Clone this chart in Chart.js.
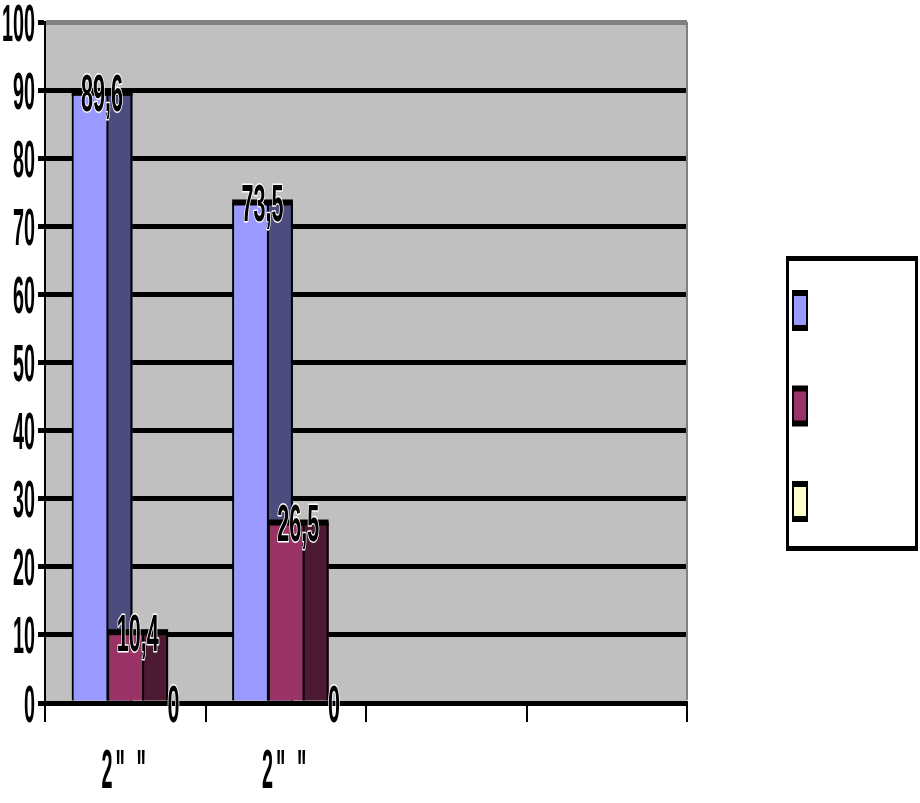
<!DOCTYPE html>
<html>
<head>
<meta charset="utf-8">
<script src="https://cdn.jsdelivr.net/npm/chart.js@4.4.1/dist/chart.umd.min.js"></script>
<style>
    body { margin: 0; background: #ffffff; }
    canvas { display: block; }
</style>
</head>
<body>
<canvas id="chart" width="920" height="803"></canvas>
<script>
var categories = ['2" "', '2" "', '', ''];
var series1 = [89.6, 73.5, null, null];
var series2 = [10.4, 26.5, null, null];
var series3 = [0, 0, null, null];
var seriesNames = ['', '', ''];

var frontColors = ['#9999FF', '#993366', '#FFFFCC'];
var sideColors = ['#4C4C7F', '#4D1A33', '#808066'];

var DEPTH = 25;
var FONT = '"Liberation Sans Narrow", "Liberation Sans", Arial, sans-serif';

// tall, squeezed bold text like the old excel picture
function stretchText(ctx, text, x, cy, align, digitW, size, outline, spacing) {
    ctx.save();
    ctx.font = 'bold ' + size + 'px ' + FONT;
    var m = ctx.measureText('0');
    var sx = digitW / m.width;
    var asc = m.actualBoundingBoxAscent || size * 0.716;
    ctx.translate(x, cy + asc / 2);
    ctx.scale(sx, 1);
    if (spacing) ctx.letterSpacing = (spacing / sx) + 'px';
    ctx.textAlign = align;
    ctx.textBaseline = 'alphabetic';
    if (outline) {
        ctx.lineWidth = 3;
        ctx.strokeStyle = '#ffffff';
        ctx.lineJoin = 'round';
        ctx.strokeText(text, 0, 0);
    }
    ctx.fillStyle = '#000000';
    ctx.fillText(text, 0, 0);
    ctx.restore();
}

function fmt(v) {
    return String(v).replace('.', ',');
}

var barsPlugin = {
    id: 'bars3d',
    beforeDraw: function (chart) {
        var a = chart.chartArea, ctx = chart.ctx;
        ctx.save();
        ctx.fillStyle = '#C0C0C0';
        ctx.fillRect(a.left, a.top, a.right - a.left, a.bottom - a.top);
        ctx.restore();
    },
    beforeDatasetsDraw: function (chart) {
        var a = chart.chartArea, ctx = chart.ctx;
        ctx.save();
        ctx.fillStyle = '#808080';
        ctx.fillRect(a.right - 1, a.top, 2, a.bottom - a.top - 3);
        ctx.restore();
    },
    afterDatasetsDraw: function (chart) {
        var ctx = chart.ctx;
        var n = chart.data.datasets.length;

        // redraw series first to last so each box covers the side of the one before
        ctx.save();
        for (var i = 0; i < n; i++) {
            chart.getDatasetMeta(i).data.forEach(function (bar) {
                var p = bar.getProps(['x', 'y', 'base', 'width'], true);
                if (p.y == null || isNaN(p.y) || p.base - p.y < 1) return;
                bar.draw(ctx);
                var left = p.x - p.width / 2, right = p.x + p.width / 2;
                ctx.fillStyle = sideColors[i];
                ctx.fillRect(right, p.y, DEPTH, p.base - p.y);
                ctx.fillStyle = '#000000';
                ctx.fillRect(right - 1, p.y, 2, p.base - p.y);
                ctx.fillRect(right + DEPTH - 2, p.y, 2, p.base - p.y);
                ctx.fillRect(left, p.y - 3, right + DEPTH - left, 6);
            });
        }
        ctx.restore();

        // value labels
        chart.data.datasets.forEach(function (ds, i) {
            var meta = chart.getDatasetMeta(i);
            meta.data.forEach(function (bar, j) {
                var v = ds.data[j];
                if (v == null) return;
                var p = bar.getProps(['x', 'y', 'width'], true);
                var cx = p.x - p.width / 2 + (p.width + DEPTH) / 2;
                stretchText(ctx, fmt(v), cx, p.y, 'center', 12, 52, true);
            });
        });
    },
    afterDraw: function (chart) {
        var ctx = chart.ctx;
        var ys = chart.scales.y, xs = chart.scales.x;

        // y tick labels
        ys.ticks.forEach(function (t) {
            stretchText(ctx, String(t.value), 35, ys.getPixelForValue(t.value), 'right', 11, 52, false);
        });
        // category labels
        chart.data.labels.forEach(function (lab, i) {
            if (!lab) return;
            stretchText(ctx, lab, xs.getPixelForValue(i), 768, 'center', 11, 56, false, 3);
        });

        // legend box
        var bx = 786, by = 256, bw = 132, bh = 295;
        ctx.save();
        ctx.fillStyle = '#ffffff';
        ctx.fillRect(bx, by, bw, bh);
        ctx.fillStyle = '#000000';
        ctx.fillRect(bx, by, bw, 5);
        ctx.fillRect(bx, by + bh - 5, bw, 5);
        ctx.fillRect(bx, by, 3, bh);
        ctx.fillRect(bx + bw - 3, by, 3, bh);
        chart.data.datasets.forEach(function (ds, i) {
            var cy = 310 + i * 95.5;
            ctx.fillStyle = '#000000';
            ctx.fillRect(792, cy - 20, 16, 41);
            ctx.fillStyle = ds.backgroundColor;
            ctx.fillRect(794, cy - 14, 12, 29);
        });
        ctx.restore();
    }
};

var ctx = document.getElementById('chart').getContext('2d');
new Chart(ctx, {
    type: 'bar',
    data: {
        labels: categories,
        datasets: [
            { label: seriesNames[0], data: series1, backgroundColor: frontColors[0] },
            { label: seriesNames[1], data: series2, backgroundColor: frontColors[1] },
            { label: seriesNames[2], data: series3, backgroundColor: frontColors[2] }
        ]
    },
    options: {
        responsive: false,
        devicePixelRatio: 1,
        animation: false,
        layout: { padding: { top: 22, right: 233, left: 0, bottom: 0 } },
        datasets: {
            bar: {
                categoryPercentage: 0.667,
                barPercentage: 1,
                borderColor: '#000000',
                borderWidth: { left: 2, right: 0, top: 0, bottom: 0 },
                borderSkipped: false
            }
        },
        plugins: {
            legend: { display: false },
            tooltip: { enabled: false }
        },
        scales: {
            x: {
                grid: {
                    offset: true,
                    drawOnChartArea: false,
                    drawTicks: true,
                    tickLength: 19,
                    lineWidth: 2,
                    tickColor: '#000000'
                },
                border: { display: true, color: '#000000', width: 5 },
                ticks: { color: 'rgba(0,0,0,0)', autoSkip: false, maxRotation: 0, font: { size: 10 } },
                afterFit: function (scale) { scale.height = 100; }
            },
            y: {
                min: 0,
                max: 100,
                ticks: { stepSize: 10, color: 'rgba(0,0,0,0)', font: { size: 10 } },
                grid: {
                    color: function (c) { return c.tick && c.tick.value === 100 ? '#808080' : '#000000'; },
                    tickColor: '#000000',
                    lineWidth: 5,
                    tickLength: 7
                },
                border: { display: true, color: '#000000', width: 2 },
                afterFit: function (scale) { scale.width = 45; }
            }
        }
    },
    plugins: [barsPlugin]
});
</script>
</body>
</html>
